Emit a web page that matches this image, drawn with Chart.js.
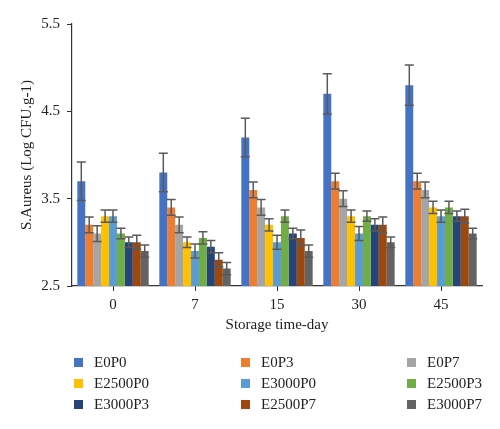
<!DOCTYPE html>
<html>
<head>
<meta charset="utf-8">
<script src="https://cdn.jsdelivr.net/npm/chart.js@4.4.1/dist/chart.umd.min.js"></script>
<style>
  body { margin: 0; background: #fff; }
  #wrap { position: relative; width: 500px; height: 429px; }
  #chart { position: absolute; left: 0; top: 0; }
  #legend { position: absolute; left: 0; top: 352px; width: 500px; font-family: "Liberation Serif", serif; font-size: 15px; color: #222; }
  .item { position: absolute; height: 21px; line-height: 21px; white-space: nowrap; }
  .box { position: absolute; top: 6px; width: 9px; height: 9px; }
  .lab { position: absolute; }
</style>
</head>
<body>
<div id="wrap">
  <canvas id="chart" width="500" height="429"></canvas>
  <div id="legend"></div>
</div>
<script>
const days = ['0', '7', '15', '30', '45'];
const seriesNames = ['E0P0', 'E0P3', 'E0P7', 'E2500P0', 'E3000P0', 'E2500P3', 'E3000P3', 'E2500P7', 'E3000P7'];
const seriesColors = ['#4472C4', '#ED7D31', '#A5A5A5', '#FFC000', '#5B9BD5', '#70AD47', '#264478', '#9E480E', '#636363'];

const e0p0 = [3.7, 3.8, 4.2, 4.7, 4.8];
const e0p3 = [3.2, 3.4, 3.6, 3.7, 3.7];
const e0p7 = [3.1, 3.2, 3.4, 3.5, 3.6];
const e2500p0 = [3.3, 3.0, 3.2, 3.3, 3.4];
const e3000p0 = [3.3, 2.9, 3.0, 3.1, 3.3];
const e2500p3 = [3.1, 3.05, 3.3, 3.3, 3.4];
const e3000p3 = [3.0, 2.95, 3.1, 3.2, 3.3];
const e2500p7 = [3.0, 2.8, 3.05, 3.2, 3.3];
const e3000p7 = [2.9, 2.7, 2.9, 3.0, 3.1];

// error bar half-lengths
const e0p0Err = [0.22, 0.22, 0.22, 0.23, 0.23];
const e0p3Err = [0.09, 0.09, 0.09, 0.09, 0.09];
const e0p7Err = [0.09, 0.09, 0.09, 0.09, 0.09];
const e2500p0Err = [0.07, 0.06, 0.07, 0.07, 0.07];
const e3000p0Err = [0.07, 0.08, 0.08, 0.08, 0.07];
const e2500p3Err = [0.06, 0.07, 0.07, 0.06, 0.07];
const e3000p3Err = [0.06, 0.07, 0.06, 0.07, 0.06];
const e2500p7Err = [0.08, 0.08, 0.09, 0.09, 0.08];
const e3000p7Err = [0.07, 0.07, 0.07, 0.06, 0.06];

const yTicks = [2.5, 3.5, 4.5, 5.5];

const seriesValues = [e0p0, e0p3, e0p7, e2500p0, e3000p0, e2500p3, e3000p3, e2500p7, e3000p7];
const seriesErrors = [e0p0Err, e0p3Err, e0p7Err, e2500p0Err, e3000p0Err, e2500p3Err, e3000p3Err, e2500p7Err, e3000p7Err];

const serif = '"Liberation Serif", "Times New Roman", serif';
const axisColor = '#333';

const errorBars = {
  id: 'errorBars',
  afterDatasetsDraw(chart) {
    const ctx = chart.ctx;
    const y = chart.scales.y;
    ctx.save();
    ctx.strokeStyle = '#5a5a5a';
    ctx.lineWidth = 1.5;
    chart.data.datasets.forEach((ds, i) => {
      const meta = chart.getDatasetMeta(i);
      meta.data.forEach((bar, j) => {
        const v = ds.data[j];
        const e = ds.errors[j];
        const top = y.getPixelForValue(v + e);
        const bot = y.getPixelForValue(v - e);
        const half = 4.5;
        ctx.beginPath();
        ctx.moveTo(bar.x, top);
        ctx.lineTo(bar.x, bot);
        ctx.moveTo(bar.x - half, top);
        ctx.lineTo(bar.x + half, top);
        ctx.moveTo(bar.x - half, bot);
        ctx.lineTo(bar.x + half, bot);
        ctx.stroke();
      });
    });
    ctx.restore();
  }
};

const chart = new Chart(document.getElementById('chart'), {
  type: 'bar',
  data: {
    labels: days,
    datasets: seriesNames.map((name, i) => ({
      label: name,
      data: seriesValues[i],
      errors: seriesErrors[i],
      backgroundColor: seriesColors[i],
      borderWidth: 0,
      categoryPercentage: 0.87,
      barPercentage: 1.0
    }))
  },
  options: {
    responsive: false,
    animation: false,
    layout: { padding: { left: 0, top: 24, right: 18, bottom: 93 } },
    plugins: {
      legend: { display: false },
      tooltip: { enabled: false }
    },
    scales: {
      x: {
        offset: true,
        grid: { drawOnChartArea: false, drawTicks: true, tickLength: 5, color: axisColor, offset: false },
        border: { display: true, color: axisColor, width: 1.2 },
        ticks: { color: '#222', padding: 5, font: { family: serif, size: 15 } },
        title: { display: true, text: 'Storage time-day', color: '#222', padding: { top: 0, bottom: 2 }, font: { family: serif, size: 15 } },
        afterFit(scale) { scale.height = 50; }
      },
      y: {
        min: 2.5,
        max: 5.5,
        afterBuildTicks(scale) { scale.ticks = yTicks.map(v => ({ value: v })); },
        grid: { drawOnChartArea: false, drawTicks: true, tickLength: 5, color: axisColor },
        border: { display: true, color: axisColor, width: 1.2 },
        ticks: { color: '#222', padding: 7, font: { family: serif, size: 15 }, callback: v => v.toFixed(1) },
        title: { display: true, text: 'S.Aureus (Log CFU.g-1)', color: '#222', padding: { top: 18, bottom: 0 }, font: { family: serif, size: 15 } },
        afterFit(scale) { scale.width = 72; }
      }
    }
  },
  plugins: [errorBars]
});

// legend in three columns
const legend = document.getElementById('legend');
const colX = [74, 241, 407];
seriesNames.forEach((name, i) => {
  const item = document.createElement('div');
  item.className = 'item';
  item.style.left = colX[i % 3] + 'px';
  item.style.top = (Math.floor(i / 3) * 21) + 'px';
  const box = document.createElement('span');
  box.className = 'box';
  box.style.background = seriesColors[i];
  const lab = document.createElement('span');
  lab.className = 'lab';
  lab.style.left = '20px';
  lab.textContent = name;
  item.appendChild(box);
  item.appendChild(lab);
  legend.appendChild(item);
});
</script>
</body>
</html>
